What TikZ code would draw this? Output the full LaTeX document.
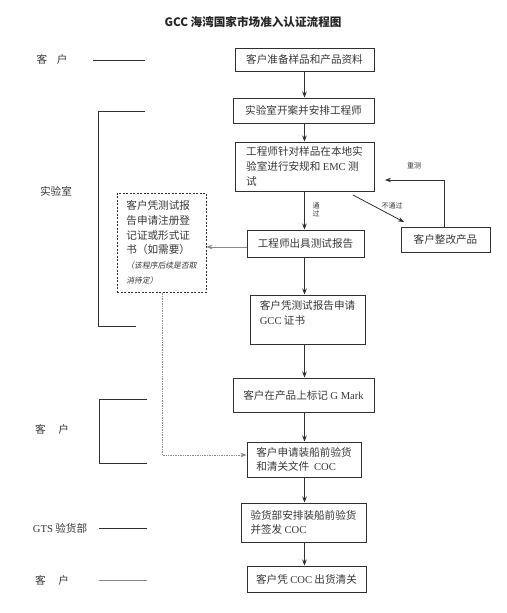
\documentclass[tikz,border=0pt]{standalone}
\usepackage{fontspec}
\usetikzlibrary{arrows.meta}
\setmainfont{Liberation Serif}
\newfontfamily\cjk{Noto Sans CJK SC}
\newfontfamily\cjkit[FakeSlant=0.2]{Noto Sans CJK SC}
\newfontfamily\latf{Liberation Serif}
\newcommand\rmx[1]{{\latf #1}}
\newcommand\ita[1]{{\cjkit\fontsize{7.8}{14.7}\selectfont #1}}
\definecolor{linec}{HTML}{303030}
\definecolor{txtc}{HTML}{383838}
\definecolor{lightc}{HTML}{8A8A8A}
\begin{document}
\begin{tikzpicture}[x=1pt,y=-1pt,
  box/.style={draw=linec, line width=1pt, inner sep=0pt, align=left,
    font=\cjk\fontsize{10.6}{14.7}\selectfont, text=txtc},
  arr/.style={-{Stealth[length=6pt,width=4.6pt]}, draw=linec, line width=0.8pt},
  garr/.style={-{Stealth[length=6pt,width=4.6pt]}, draw=lightc, line width=0.7pt},
  lbl/.style={font=\cjk\fontsize{10.6}{13}\selectfont, text=txtc, inner sep=0pt},
  small/.style={font=\cjk\fontsize{7}{8}\selectfont, text=txtc, inner sep=0pt},
  brk/.style={draw=linec, line width=0.8pt}]
\useasboundingbox (0,0) rectangle (506,613);
\fill[white] (0,0) rectangle (506,613);

% title
\node[font=\cjk\bfseries\fontsize{11.6}{14}\selectfont, text=black!85] (title) at (253,22) {GCC 海湾国家市场准入认证流程图};

% main boxes
\node[box, minimum width=139, minimum height=23] (b1) at (304.5,59.5) {客户准备样品和产品资料};
\node[box, minimum width=141, minimum height=25] (b2) at (303.5,110.5) {实验室开案并安排工程师};
\node[box, minimum width=139, minimum height=49] (b3) at (304.5,166.5) {工程师针对样品在本地实\\验室进行安规和 \rmx{EMC} 测\\试};
\node[box, minimum width=117, minimum height=27] (b4) at (305.5,243.5) {工程师出具测试报告};
\node[box, minimum width=89, minimum height=25] (bz) at (445.5,239.5) {客户整改产品};
\node[box, dashed, dash pattern=on 2pt off 1.5pt, minimum width=89, minimum height=99] (bd) at (161.5,242.5)
  {客户凭测试报\\告申请注册登\\记证或形式证\\书（如需要）\\\ita{（该程序后续是否取}\\\ita{消待定）}};
\node[box, minimum width=115, minimum height=49] (b5) at (307.5,319.5) {客户凭测试报告申请\\\rmx{GCC} 证书\\\mbox{}};
\node[box, minimum width=141, minimum height=34] (b6) at (303.5,395) {客户在产品上标记 \rmx{G Mark}};
\node[box, minimum width=114, minimum height=35] (b7) at (304,459.5) {客户申请装船前验货\\和清关文件\ \ \rmx{COC}};
\node[box, minimum width=125, minimum height=39] (b8) at (303.5,522.5) {验货部安排装船前验货\\并签发 \rmx{COC}};
\node[box, minimum width=119, minimum height=26] (b9) at (306.5,579) {客户凭 \rmx{COC} 出货清关};

% vertical arrows
\draw[arr] (b1.south) -- (b1.south |- b2.north);
\draw[arr] (b2.south -| b1.south) -- (b1.south |- b3.north);
\draw[arr] (b3.south -| b1.south) -- (b1.south |- b4.north);
\draw[arr] (b4.south -| b1.south) -- (b1.south |- b5.north);
\draw[arr] (b5.south -| b1.south) -- (b1.south |- b6.north);
\draw[arr] (b6.south -| b1.south) -- (b1.south |- b7.north);
\draw[arr] (b7.south -| b1.south) -- (b1.south |- b8.north);
\draw[arr] (b8.south -| b1.south) -- (b1.south |- b9.north);

% pass / fail / retest
\node[small, align=center] (pass) at (316,210) {通\\过};
\coordinate (f1) at (353,195);
\coordinate (f2) at (404,222);
\draw[arr] (f1) -- (f2);
\node[small] (fail) at (392,206) {不通过};
\coordinate (r1) at (444,180);
\coordinate (r2) at (385,180);
\draw[arr] (bz.north -| r1) -- (r1) -- (r2);
\node[small] (retest) at (414,166) {重测};

% to dashed box
\draw[garr] (b4.west |- 0,247) -- (bd.east |- 0,247);
\coordinate (dd) at (162,455);
\draw[garr, densely dotted] (bd.south -| dd) -- (dd) -- (dd -| b7.west);

% left labels and brackets
\node[lbl] (l1) at (52,59) {客\hspace{0.9em}户};
\coordinate (l1a) at (93,60); \coordinate (l1b) at (145,60);
\draw[brk] (l1a) -- (l1b);

\node[lbl] (l2) at (56,191) {实验室};
\coordinate (l2a) at (145,111); \coordinate (l2b) at (98,111);
\coordinate (l2c) at (98,326); \coordinate (l2d) at (136,326);
\draw[brk] (l2a) -- (l2b) -- (l2c) -- (l2d);

\node[lbl] (l3) at (52,429) {客\hspace{1.2em}户};
\coordinate (l3a) at (147,399); \coordinate (l3b) at (99,399);
\coordinate (l3c) at (99,463); \coordinate (l3d) at (147,463);
\draw[brk] (l3a) -- (l3b) -- (l3c) -- (l3d);

\node[lbl] (l4) at (60,528) {\rmx{GTS} 验货部};
\coordinate (l4a) at (99,528); \coordinate (l4b) at (147,528);
\draw[brk] (l4a) -- (l4b);

\node[lbl] (l5) at (52,580) {客\hspace{1.2em}户};
\coordinate (l5a) at (99,580); \coordinate (l5b) at (147,580);
\draw[brk, draw=lightc] (l5a) -- (l5b);
\end{tikzpicture}
\end{document}
